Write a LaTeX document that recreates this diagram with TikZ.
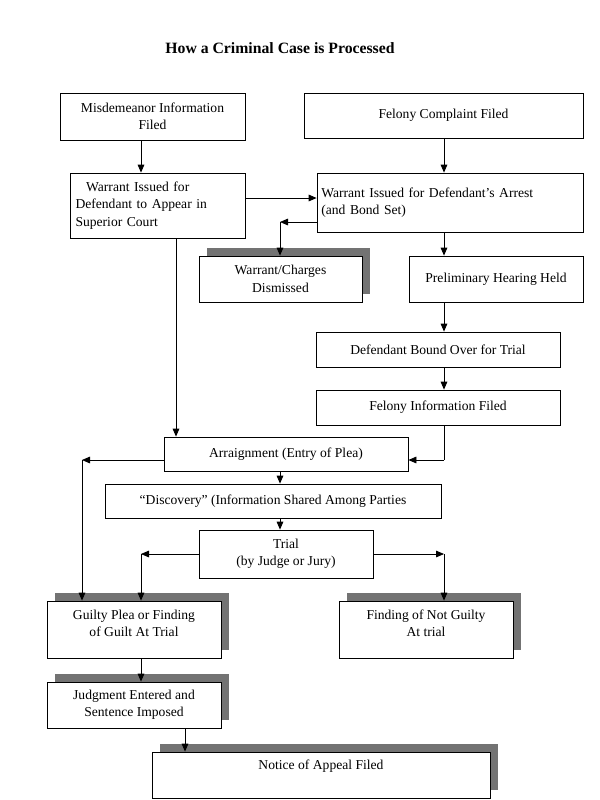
\documentclass[tikz,border=0pt]{standalone}
\usepackage{fontspec}
\setmainfont{Liberation Serif}
\usetikzlibrary{arrows.meta,shadows}
\begin{document}
\begin{tikzpicture}[x=0.75pt,y=-0.75pt,
  box/.style={draw=black,line width=0.6pt,fill=white,inner sep=2pt,font=\fontsize{10.2}{13}\selectfont,align=center},
  sbox/.style={box,drop shadow={shadow xshift=6pt,shadow yshift=6pt,fill=black!55,opacity=1}},
  arr/.style={line width=0.6pt,-{Triangle[length=6pt,width=5pt]}},
  ln/.style={line width=0.6pt}]
\useasboundingbox (0,0) rectangle (600,800);
\node[font=\bfseries\fontsize{11.8}{13}\selectfont] (title) at (280,48) {How a Criminal Case is Processed};
\node[box,minimum width=138.75pt,minimum height=35.25pt] (m1) at (152.5,116.5) {Misdemeanor Information\\Filed};
\node[box,minimum width=209.25pt,minimum height=33.75pt] (f1) at (443.5,115.5) {Felony Complaint Filed};
\node[box,minimum width=131.25pt,minimum height=48.75pt,align=left,text width=123pt] (w1) at (157.5,205.5) {\hspace*{8pt}Warrant Issued for\\Defendant to Appear in\\Superior Court};
\node[box,minimum width=199.5pt,minimum height=44.25pt,align=left,text width=193pt] (w2) at (450,202.5) {Warrant Issued for Defendant’s Arrest\\(and Bond Set)\\[-6pt]};
\node[sbox,minimum width=122.25pt,minimum height=34.5pt] (dis) at (280.5,279) {Warrant/Charges\\Dismissed};
\node[box,minimum width=130.5pt,minimum height=34.5pt] (ph) at (496,279) {Preliminary Hearing Held};
\node[box,minimum width=183pt,minimum height=26.25pt] (bo) at (438,349.5) {Defendant Bound Over for Trial};
\node[box,minimum width=183pt,minimum height=26.25pt] (fi) at (438,407.5) {Felony Information Filed};
\node[box,minimum width=183pt,minimum height=25.5pt] (ar) at (286,454) {Arraignment (Entry of Plea)};
\node[box,minimum width=252pt,minimum height=25.5pt] (di) at (273,501) {“Discovery” (Information Shared Among Parties};
\node[box,minimum width=130.5pt,minimum height=36pt] (tr) at (286,554) {Trial\\(by Judge or Jury)};
\node[sbox,minimum width=130.5pt,minimum height=42.75pt] (gp) at (134,629.5) {Guilty Plea or Finding\\of Guilt At Trial\\[-4pt]};
\node[sbox,minimum width=130.5pt,minimum height=42.75pt] (ng) at (426,629.5) {Finding of Not Guilty\\At trial\\[-4pt]};
\node[sbox,minimum width=130.5pt,minimum height=34.5pt] (ju) at (134,705) {Judgment Entered and\\Sentence Imposed};
\node[sbox,minimum width=253.5pt,minimum height=34.5pt] (ap) at (321,775) {Notice of Appeal Filed\\[2pt]};
\coordinate (x141) at (141,0);
\coordinate (x444) at (444,0);
\coordinate (x176) at (176,0);
\coordinate (x280) at (280,0);
\coordinate (x82) at (82,0);
\coordinate (x185) at (185,0);
\coordinate (y198) at (0,198);
\coordinate (y222) at (0,222);
\coordinate (y460) at (0,460);
\coordinate (y554) at (0,554);
\coordinate (c1) at (280,222);
\coordinate (c2) at (444,460);
\coordinate (c3) at (82,460);
\coordinate (c4) at (141,554);
\coordinate (c5) at (444,554);
\draw[arr] (m1.south -| x141) -- (w1.north -| x141);
\draw[arr] (f1.south -| x444) -- (w2.north -| x444);
\draw[arr] (w1.east |- y198) -- (w2.west |- y198);
\draw[arr] (w2.west |- y222) -- (c1);
\draw[arr] (c1) -- (dis.north -| x280);
\draw[arr] (w2.south -| x444) -- (ph.north -| x444);
\draw[arr] (ph.south -| x444) -- (bo.north -| x444);
\draw[arr] (bo.south -| x444) -- (fi.north -| x444);
\draw[ln] (fi.south -| x444) -- (c2);
\draw[arr] (c2) -- (ar.east |- y460);
\draw[arr] (w1.south -| x176) -- (ar.north -| x176);
\draw[arr] (ar.west |- y460) -- (c3);
\draw[arr] (c3) -- (gp.north -| x82);
\draw[arr] (ar.south -| x280) -- (di.north -| x280);
\draw[arr] (di.south -| x280) -- (tr.north -| x280);
\draw[arr] (tr.west |- y554) -- (c4);
\draw[arr] (c4) -- (gp.north -| x141);
\draw[arr] (tr.east |- y554) -- (c5);
\draw[arr] (c5) -- (ng.north -| x444);
\draw[arr] (gp.south -| x141) -- (ju.north -| x141);
\draw[arr] (ju.south -| x185) -- (ap.north -| x185);
\end{tikzpicture}
\end{document}
